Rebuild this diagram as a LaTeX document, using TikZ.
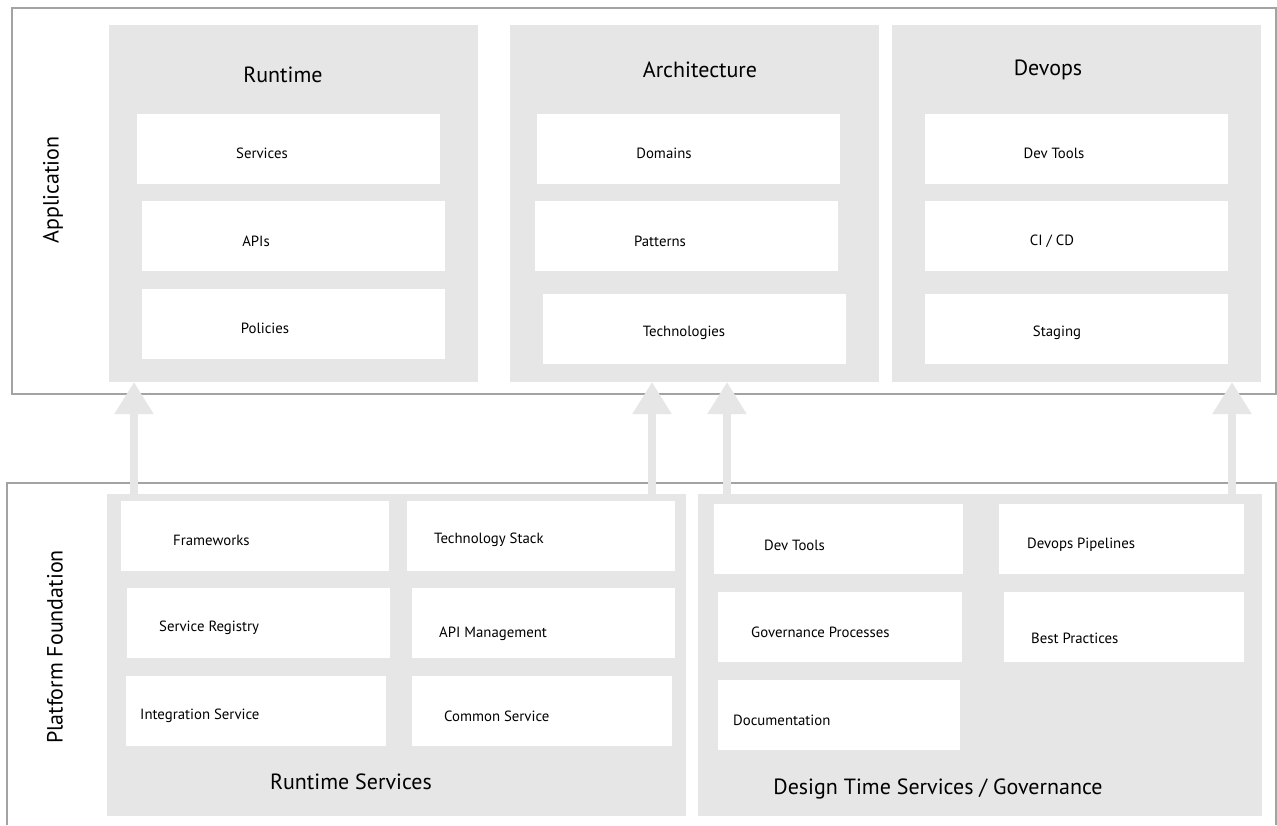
\documentclass[tikz,border=0pt]{standalone}
\usepackage{fontspec}
\setmainfont{PT Sans}
\usetikzlibrary{arrows.meta}
\definecolor{panelgray}{HTML}{E6E6E6}
\definecolor{framegray}{HTML}{A3A3A3}
\tikzset{
  frame/.style={draw=framegray, line width=1.3pt},
  panel/.style={fill=panelgray, draw=none, anchor=north west, inner sep=0pt},
  wbox/.style={fill=white, draw=none, anchor=north west, inner sep=0pt},
  small/.style={font=\fontsize{14.8}{17}\selectfont, inner sep=0pt},
  title/.style={font=\fontsize{22}{26}\selectfont, inner sep=0pt},
  uparrow/.style={draw=panelgray, line width=8pt,
    -{Triangle[width=37pt,length=32pt]}, shorten >=0pt},
}
\newcommand{\boxat}[5]{% name, x, y, w, h
  \node[wbox, minimum width=#4, minimum height=#5] (#1) at (#2,#3) {};}
\begin{document}
\begin{tikzpicture}[x=1pt,y=-1pt]
\useasboundingbox (0,0) rectangle (1277,825);
\fill[white] (0,0) rectangle (1277,825);

% outer frames
\draw[frame] (12,8) rectangle (1276,394);
\draw[frame] (7,825) -- (7,483) -- (1276,483) -- (1276,825);

% layer labels
\node[title, rotate=90] (app) at (53,190) {Application};
\node[title, rotate=90] (plat) at (55,647) {Platform Foundation};

% application panels
\node[panel, minimum width=369, minimum height=357] (rt) at (109,25) {};
\node[panel, minimum width=369, minimum height=357] (arch) at (510,25) {};
\node[panel, minimum width=369, minimum height=357] (dev) at (892,25) {};
\node[title] (rtT) at (283,75) {Runtime};
\node[title] (archT) at (700,70) {Architecture};
\node[title] (devT) at (1048,70) {Devops};

\boxat{svc}{137}{114}{303}{70}
\boxat{api}{142}{201}{303}{70}
\boxat{pol}{142}{289}{303}{70}
\node[small] at (262,153) {Services};
\node[small] at (256,241) {APIs};
\node[small] at (265,328) {Policies};

\boxat{dom}{537}{114}{303}{70}
\boxat{pat}{535}{201}{303}{70}
\boxat{tec}{543}{294}{303}{70}
\node[small] at (664,153) {Domains};
\node[small] at (660,241) {Patterns};
\node[small] at (684,333) {Technologies};

\boxat{dtl}{925}{114}{303}{70}
\boxat{cicd}{925}{201}{303}{70}
\boxat{stg}{925}{294}{303}{70}
\node[small] at (1054,153) {Dev Tools};
\node[small] at (1052,241) {CI / CD};
\node[small] at (1057,333) {Staging};

% platform panels
\node[panel, minimum width=579, minimum height=322] (rts) at (107,494) {};
\node[panel, minimum width=564, minimum height=322] (dts) at (698,494) {};
\node[title] (rtsT) at (351,782) {Runtime Services};
\node[title] (dtsT) at (938,789) {Design Time Services / Governance};

\boxat{fw}{121}{501}{268}{70}
\boxat{sr}{127}{588}{263}{70}
\boxat{is}{126}{676}{260}{70}
\boxat{ts}{407}{501}{268}{70}
\boxat{am}{412}{588}{263}{70}
\boxat{cs}{412}{676}{260}{70}
\node[small, anchor=west] at (173,540) {Frameworks};
\node[small, anchor=west] at (159,628) {Service Registry};
\node[small, anchor=west] at (140,716) {Integration Service};
\node[small, anchor=west] at (434,540) {Technology Stack};
\node[small, anchor=west] at (439,634) {API Management};
\node[small, anchor=west] at (444,716) {Common Service};

\boxat{pdt}{714}{504}{249}{70}
\boxat{gp}{718}{592}{244}{70}
\boxat{doc}{718}{680}{242}{70}
\boxat{dp}{999}{504}{245}{70}
\boxat{bp}{1004}{592}{240}{70}
\node[small, anchor=west] at (764,545) {Dev Tools};
\node[small, anchor=west] at (751,632) {Governance Processes};
\node[small, anchor=west] at (733,720) {Documentation};
\node[small, anchor=west] at (1027,545) {Devops Pipelines};
\node[small, anchor=west] at (1031,638) {Best Practices};

% arrows from the platform up to the application panels
\coordinate (a1s) at (134,494);   \coordinate (a1e) at (134,382);
\coordinate (a2s) at (652,494);   \coordinate (a2e) at (652,382);
\coordinate (a3s) at (727,494);   \coordinate (a3e) at (727,382);
\coordinate (a4s) at (1232,494);  \coordinate (a4e) at (1232,382);
\draw[uparrow] (a1s) -- (a1e);
\draw[uparrow] (a2s) -- (a2e);
\draw[uparrow] (a3s) -- (a3e);
\draw[uparrow] (a4s) -- (a4e);
\end{tikzpicture}
\end{document}
